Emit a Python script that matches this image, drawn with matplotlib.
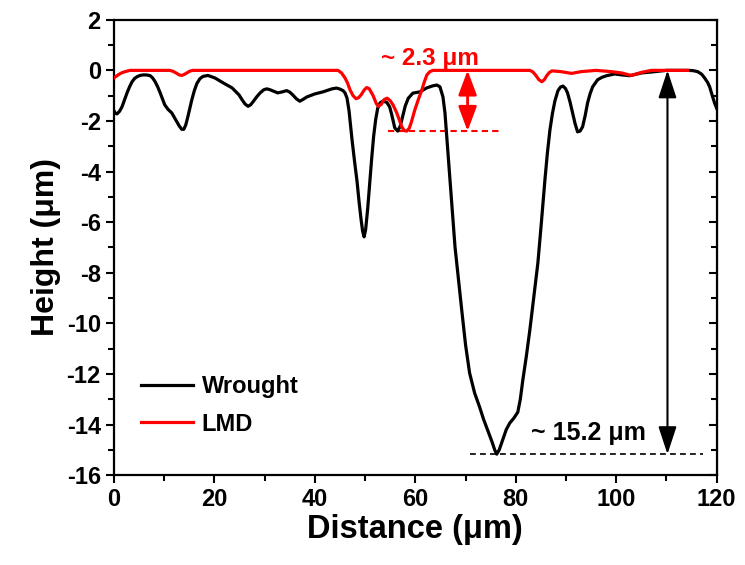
import matplotlib
matplotlib.use("Agg")
import matplotlib.pyplot as plt
from matplotlib.ticker import MultipleLocator

plt.rcParams['font.family'] = ['Liberation Sans', 'DejaVu Sans']
plt.rcParams['font.weight'] = 'bold'
plt.rcParams['axes.unicode_minus'] = False

# profile (distance um, height um)
wrought_x = [0.0, 0.3, 0.6, 1.1, 1.6, 2.1, 2.6, 3.1, 3.6, 4.1, 4.6, 5.2, 5.8,
             6.5, 7.2, 7.7, 8.2, 8.7, 9.2, 10.1, 10.8, 11.5, 12.5, 13.0, 13.5,
             13.9, 14.3, 14.7, 15.1, 15.5, 16.0, 16.5, 17.1, 17.7, 18.7, 20.1,
             21.7, 23.5, 24.9, 25.5, 26.1, 26.7, 27.2, 27.7, 28.4, 29.1, 29.8,
             30.4, 31.0, 31.6, 32.6, 33.5, 34.4, 35.0, 35.6, 36.3, 37.0, 37.7,
             38.4, 40.0, 41.6, 43.4, 44.3, 45.0, 45.6, 46.0, 46.4, 46.8, 47.4,
             47.9, 48.4, 48.8, 49.2, 49.5, 49.8, 50.1, 50.5, 50.9, 51.3, 51.7,
             52.1, 52.5, 53.0, 53.5, 54.3, 54.9, 55.3, 55.9, 56.5, 57.0, 57.5,
             58.0, 58.6, 59.5, 60.9, 62.3, 63.5, 64.3, 64.9, 65.5, 65.9, 66.4,
             66.9, 67.4, 67.9, 68.6, 69.3, 70.0, 70.8, 71.8, 72.8, 73.6, 74.4,
             75.3, 75.8, 76.2, 76.7, 77.4, 78.1, 78.8, 79.6, 80.4, 80.9, 81.4,
             82.1, 82.8, 83.6, 84.4, 85.1, 85.8, 86.3, 86.8, 87.3, 87.8, 88.4,
             88.9, 89.4, 89.9, 90.3, 90.8, 91.3, 91.8, 92.3, 92.8, 93.3, 93.8,
             94.3, 94.8, 95.3, 96.3, 97.2, 98.1, 99.7, 101.1, 102.7, 105.1,
             107.7, 110.0, 114.2, 115.3, 116.2, 117.0, 117.6, 118.2, 118.6,
             119.2, 119.6, 120.0]
wrought_y = [-1.6, -1.7, -1.72, -1.62, -1.44, -1.17, -0.89, -0.65, -0.45, -0.32,
             -0.25, -0.2, -0.18, -0.18, -0.21, -0.3, -0.45, -0.65, -0.89, -1.36,
             -1.55, -1.68, -2.03, -2.2, -2.33, -2.33, -2.15, -1.84, -1.5, -1.16,
             -0.8, -0.52, -0.33, -0.24, -0.2, -0.3, -0.49, -0.69, -0.97, -1.16,
             -1.33, -1.42, -1.36, -1.24, -1.05, -0.89, -0.77, -0.73, -0.76,
             -0.81, -0.89, -0.85, -0.8, -0.86, -0.97, -1.12, -1.22, -1.14, -1.05,
             -0.93, -0.85, -0.73, -0.7, -0.74, -0.8, -0.89, -1.1, -1.6, -2.75,
             -3.6, -4.4, -5.2, -5.9, -6.35, -6.58, -6.3, -5.5, -4.5, -3.5, -2.6,
             -1.95, -1.5, -1.28, -1.22, -1.26, -1.45, -1.75, -2.27, -2.4, -2.2,
             -1.8, -1.4, -1.1, -0.9, -0.85, -0.69, -0.61, -0.58, -0.65, -1.05,
             -1.68, -3.0, -4.33, -5.65, -6.98, -8.3, -9.59, -10.85, -11.96,
             -12.75, -13.31, -13.8, -14.22, -14.7, -15.0, -15.17, -15.0, -14.6,
             -14.2, -13.94, -13.75, -13.51, -13.0, -12.24, -11.3, -10.26, -8.95,
             -7.61, -6.0, -4.33, -3.25, -2.35, -1.7, -1.2, -0.8, -0.66, -0.62,
             -0.72, -0.89, -1.25, -1.68, -2.1, -2.43, -2.4, -2.23, -1.8, -1.28,
             -0.92, -0.65, -0.37, -0.27, -0.21, -0.14, -0.18, -0.21, -0.1,
             -0.05, 0.0, 0.0, -0.01, -0.05, -0.15, -0.3, -0.48, -0.65, -1.05,
             -1.3, -1.5]

lmd_x = [0.0, 0.4, 0.8, 1.5, 2.2, 3.2, 11.1, 11.8, 12.5, 13.0, 13.5, 14.0,
         14.5, 15.1, 15.7, 44.6, 45.3, 46.0, 46.5, 47.0, 47.6, 48.2, 48.7,
         49.2, 49.8, 50.3, 50.8, 51.6, 52.2, 52.6, 53.2, 53.8, 54.4, 55.0,
         55.6, 56.3, 56.8, 57.3, 57.8, 58.3, 58.8, 59.2, 59.9, 60.6, 61.3,
         61.8, 62.3, 62.9, 63.5, 82.8, 83.4, 84.0, 84.6, 85.2, 85.7, 86.2,
         86.7, 87.2, 89.0, 91.1, 93.0, 96.0, 99.0, 101.0, 103.0, 105.0,
         107.0, 114.2]
lmd_y = [-0.3, -0.24, -0.18, -0.1, -0.05, 0.0, 0.0, -0.04, -0.12, -0.18, -0.2,
         -0.16, -0.1, -0.03, 0.0, 0.0, -0.1, -0.3, -0.5, -0.77, -1.0, -1.12,
         -1.08, -0.97, -0.78, -0.68, -0.72, -1.0, -1.3, -1.42, -1.35, -1.15,
         -1.1, -1.2, -1.38, -1.68, -1.95, -2.23, -2.38, -2.4, -2.28, -2.05,
         -1.56, -1.15, -0.77, -0.45, -0.18, -0.05, 0.0, 0.0, -0.06, -0.2,
         -0.37, -0.45, -0.36, -0.2, -0.08, -0.02, -0.05, -0.12, -0.05, 0.0,
         -0.05, -0.1, -0.2, -0.08, 0.0, 0.0]

lmd_depth = -2.4
wrought_depth = -15.17

fig = plt.figure(figsize=(7.45, 5.65), dpi=100)
ax = fig.add_axes([0.153, 0.159, 0.809, 0.806])

ax.plot(wrought_x, wrought_y, color='black', lw=2.3, label='Wrought',
        solid_joinstyle='round', zorder=3)
ax.plot(lmd_x, lmd_y, color='red', lw=2.3, label='LMD',
        solid_joinstyle='round', zorder=4)

# depth markers
ax.plot([54.5, 76.8], [lmd_depth, lmd_depth], color='red', lw=1.5,
        dashes=(3, 2), zorder=2)
ax.plot([70.8, 117.2], [wrought_depth, wrought_depth], color='black', lw=1.2,
        dashes=(3.5, 2.5), zorder=2)
ax.annotate('', xy=(70.4, 0), xytext=(70.4, lmd_depth),
            arrowprops=dict(arrowstyle='<|-|>,head_length=0.75,head_width=0.28',
                            color='red', lw=2, shrinkA=0, shrinkB=0,
                            mutation_scale=20))
ax.annotate('', xy=(110.2, 0), xytext=(110.2, wrought_depth),
            arrowprops=dict(arrowstyle='<|-|>,head_length=0.85,head_width=0.28',
                            color='black', lw=1.5, shrinkA=0, shrinkB=0,
                            mutation_scale=20))
ax.text(62.9, 0.45, '~ 2.3 μm', color='red', fontsize=17.5, fontweight='bold',
        ha='center', va='center')
ax.text(94.5, -14.35, '~ 15.2 μm', color='black', fontsize=18, fontweight='bold',
        ha='center', va='center')

ax.set_xlim(0, 120)
ax.set_ylim(-16, 2)
ax.xaxis.set_major_locator(MultipleLocator(20))
ax.xaxis.set_minor_locator(MultipleLocator(10))
ax.yaxis.set_major_locator(MultipleLocator(2))
ax.yaxis.set_minor_locator(MultipleLocator(1))
ax.tick_params(which='both', direction='out', width=1.5, labelsize=17,
               top=False, right=False)
ax.tick_params(which='major', length=6)
ax.tick_params(which='minor', length=4)
for lab in ax.get_xticklabels() + ax.get_yticklabels():
    lab.set_fontweight('bold')
for s in ax.spines.values():
    s.set_linewidth(1.6)

# right side ticks point inward like the original
ax2 = ax.secondary_yaxis('right')
ax2.yaxis.set_major_locator(MultipleLocator(2))
ax2.yaxis.set_minor_locator(MultipleLocator(1))
ax2.tick_params(which='both', direction='in', width=1.5, labelright=False)
ax2.tick_params(which='major', length=6)
ax2.tick_params(which='minor', length=4)

ax.set_xlabel('Distance (μm)', fontsize=23.5, fontweight='bold', labelpad=2)
ax.set_ylabel('Height (μm)', fontsize=23, fontweight='bold', labelpad=4)

leg = ax.legend(loc='center left', bbox_to_anchor=(0.01, 0.153), frameon=False,
                fontsize=17, handlelength=2.2, handletextpad=0.35,
                labelspacing=0.6)
for t in leg.get_texts():
    t.set_fontweight('bold')

fig.savefig('out.png', dpi=100)
